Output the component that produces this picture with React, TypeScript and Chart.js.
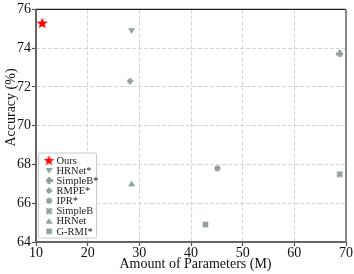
import React, { useEffect, useRef } from "react";
import { Chart, registerables } from "chart.js";

Chart.register(...registerables);

const seriesLabels = ["Ours", "HRNet*", "SimpleB*", "RMPE*", "IPR*", "SimpleB", "HRNet", "G-RMI*"];
const paramsM = [11.2, 28.5, 68.8, 28.2, 45.1, 68.8, 28.5, 42.8];
const accuracy = [75.3, 74.9, 73.7, 72.3, 67.8, 67.5, 67.0, 64.9];
const markerShapes = ["star", "triDown", "plus", "diamond", "circle", "xcross", "triUp", "square"];
const xTicks = [10, 20, 30, 40, 50, 60, 70];
const yTicks = [64, 66, 68, 70, 72, 74, 76];
const xTitle = "Amount of Parameters (M)";
const yTitle = "Accuracy (%)";

const GREY = "#8fa09a";
const FONT = '"Liberation Serif", "Times New Roman", serif';

function makeMarker(shape: string, color: string, size: number): HTMLCanvasElement {
  const c = document.createElement("canvas");
  c.width = size;
  c.height = size;
  const ctx = c.getContext("2d")!;
  const cx = size / 2, cy = size / 2;
  ctx.fillStyle = color;
  ctx.beginPath();
  const r = size / 2;
  if (shape === "star") {
    for (let i = 0; i < 10; i++) {
      const ang = -Math.PI / 2 + (i * Math.PI) / 5;
      const rr = i % 2 === 0 ? r : r * 0.42;
      const px = cx + rr * Math.cos(ang), py = cy + rr * Math.sin(ang) + r * 0.08;
      if (i === 0) ctx.moveTo(px, py); else ctx.lineTo(px, py);
    }
    ctx.closePath();
  } else if (shape === "triDown") {
    ctx.moveTo(cx - r, cy - r * 0.7);
    ctx.lineTo(cx + r, cy - r * 0.7);
    ctx.lineTo(cx, cy + r * 0.9);
    ctx.closePath();
  } else if (shape === "triUp") {
    ctx.moveTo(cx - r, cy + r * 0.7);
    ctx.lineTo(cx + r, cy + r * 0.7);
    ctx.lineTo(cx, cy - r * 0.9);
    ctx.closePath();
  } else if (shape === "plus") {
    const w = r * 0.42;
    ctx.rect(cx - w, cy - r, 2 * w, 2 * r);
    ctx.rect(cx - r, cy - w, 2 * r, 2 * w);
  } else if (shape === "diamond") {
    ctx.moveTo(cx, cy - r);
    ctx.lineTo(cx + r, cy);
    ctx.lineTo(cx, cy + r);
    ctx.lineTo(cx - r, cy);
    ctx.closePath();
  } else if (shape === "circle") {
    ctx.arc(cx, cy, r * 0.85, 0, Math.PI * 2);
  } else if (shape === "xcross") {
    ctx.save();
    ctx.translate(cx, cy);
    ctx.rotate(Math.PI / 4);
    const w = r * 0.38;
    ctx.rect(-w, -r, 2 * w, 2 * r);
    ctx.rect(-r, -w, 2 * r, 2 * w);
    ctx.restore();
  } else {
    ctx.rect(cx - r * 0.8, cy - r * 0.8, r * 1.6, r * 1.6);
  }
  ctx.fill("nonzero");
  return c;
}

const framePlugin = {
  id: "frameAndLegend",
  afterDraw(chart: any) {
    const { ctx, chartArea } = chart;
    const { left, right, top, bottom } = chartArea;
    ctx.save();
    // frame
    ctx.setLineDash([]);
    ctx.strokeStyle = "#222";
    ctx.lineWidth = 1.3;
    ctx.beginPath();
    ctx.moveTo(left, top);
    ctx.lineTo(right, top);
    ctx.stroke();
    ctx.strokeStyle = "#666";
    ctx.lineWidth = 2;
    ctx.beginPath();
    ctx.moveTo(left, top);
    ctx.lineTo(left, bottom);
    ctx.lineTo(right, bottom);
    ctx.stroke();
    ctx.strokeStyle = "#888";
    ctx.beginPath();
    ctx.moveTo(right, top);
    ctx.lineTo(right, bottom);
    ctx.stroke();

    // axis titles
    ctx.fillStyle = "#111";
    ctx.font = "14px " + FONT;
    ctx.textAlign = "center";
    ctx.textBaseline = "middle";
    ctx.fillText(xTitle, 195.5, 264);
    ctx.save();
    ctx.translate(11, 107.5);
    ctx.rotate(-Math.PI / 2);
    ctx.fillText(yTitle, 0, 0);
    ctx.restore();

    // legend
    const bx = 38.5, by = 153, bw = 58, bh = 85;
    ctx.fillStyle = "rgba(255,255,255,0.85)";
    ctx.strokeStyle = "#cccccc";
    ctx.lineWidth = 1;
    ctx.beginPath();
    if ((ctx as any).roundRect) (ctx as any).roundRect(bx, by, bw, bh, 2);
    else ctx.rect(bx, by, bw, bh);
    ctx.fill();
    ctx.stroke();
    ctx.font = "10.5px " + FONT;
    ctx.textBaseline = "middle";
    ctx.textAlign = "left";
    chart.data.datasets.forEach((ds: any, i: number) => {
      const y = 160.3 + i * 10.14;
      const img = ds.legendImage as HTMLCanvasElement;
      ctx.drawImage(img, 49 - img.width / 2, y - img.height / 2);
      ctx.fillStyle = "#222";
      ctx.fillText(ds.label, 56.5, y + 0.5);
    });
    ctx.restore();
  },
};

export default function App() {
  const ref = useRef<HTMLCanvasElement | null>(null);
  useEffect(() => {
    const canvas = ref.current!;
    const datasets = seriesLabels.map((label, i) => {
      const isOurs = i === 0;
      const color = isOurs ? "#ff0000" : GREY;
      const size = isOurs ? 12 : 7;
      const img = makeMarker(markerShapes[i], color, size);
      const legImg = makeMarker(markerShapes[i], color, isOurs ? 11 : 7);
      return {
        label,
        data: [{ x: paramsM[i], y: accuracy[i] }],
        pointStyle: img,
        legendImage: legImg,
        backgroundColor: color,
        borderColor: color,
        showLine: false,
      } as any;
    });
    const tickFont = { family: FONT, size: 14 };
    const chart = new Chart(canvas, {
      type: "scatter",
      data: { datasets },
      options: {
        animation: false,
        responsive: false,
        maintainAspectRatio: false,
        layout: { padding: { top: 9, right: 8, left: 0, bottom: 0 } },
        plugins: { legend: { display: false }, tooltip: { enabled: false } },
        scales: {
          x: {
            type: "linear",
            min: 10,
            max: 70,
            afterBuildTicks: (s: any) => {
              s.ticks = xTicks.map((v) => ({ value: v }));
            },
            afterFit: (s: any) => {
              s.height = 32;
            },
            ticks: { font: tickFont, color: "#111", padding: -1, maxRotation: 0 },
            grid: {
              color: (c: any) => (c.tick && (c.tick.value === 10 || c.tick.value === 70) ? "rgba(0,0,0,0)" : "#d4d4d4"),
              lineWidth: 1,
              tickLength: 4,
              tickColor: "#555",
              tickWidth: 1.2,
            },
            border: { display: false, dash: [4, 2] },
            title: { display: false },
          },
          y: {
            type: "linear",
            min: 64,
            max: 76,
            afterBuildTicks: (s: any) => {
              s.ticks = yTicks.map((v) => ({ value: v }));
            },
            afterFit: (s: any) => {
              s.width = 36;
            },
            ticks: { font: tickFont, color: "#111", padding: 1 },
            grid: {
              color: (c: any) => (c.tick && (c.tick.value === 64 || c.tick.value === 76) ? "rgba(0,0,0,0)" : "#d4d4d4"),
              lineWidth: 1,
              tickLength: 4,
              tickColor: "#555",
              tickWidth: 1.2,
            },
            border: { display: false, dash: [4, 2] },
            title: { display: false },
          },
        },
      },
      plugins: [framePlugin],
    });
    return () => chart.destroy();
  }, []);
  return (
    <div style={{ position: "absolute", left: 0, top: 0, width: 354, height: 274, background: "#fff" }}>
      <canvas ref={ref} width={354} height={274} style={{ width: 354, height: 274, display: "block" }} />
    </div>
  );
}
